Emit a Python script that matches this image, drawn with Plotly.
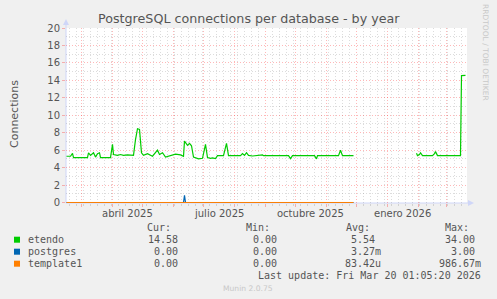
import plotly.graph_objects as go

# ---------------- data ----------------
etendo_dates = [
    "2025-02-14", "2025-02-18", "2025-02-20", "2025-02-21", "2025-03-07", "2025-03-08",
    "2025-03-10", "2025-03-12", "2025-03-13", "2025-03-15", "2025-03-17", "2025-03-19",
    "2025-03-20", "2025-03-30", "2025-04-01", "2025-04-02", "2025-04-06", "2025-04-09",
    "2025-04-12", "2025-04-16", "2025-04-22", "2025-04-24", "2025-04-26", "2025-04-28",
    "2025-04-29", "2025-04-30", "2025-05-02", "2025-05-06", "2025-05-11", "2025-05-16",
    "2025-05-18", "2025-05-21", "2025-05-24", "2025-05-29", "2025-06-03", "2025-06-08",
    "2025-06-11", "2025-06-12", "2025-06-15", "2025-06-17", "2025-06-19", "2025-06-21",
    "2025-06-23", "2025-06-26", "2025-06-30", "2025-07-01", "2025-07-03", "2025-07-05",
    "2025-07-08", "2025-07-10", "2025-07-13", "2025-07-15", "2025-07-21", "2025-07-24",
    "2025-07-26", "2025-08-07", "2025-08-09", "2025-08-11", "2025-08-13", "2025-08-15",
    "2025-08-19", "2025-08-29", "2025-08-30", "2025-09-24", "2025-09-26", "2025-09-28",
    "2025-10-11", "2025-10-13", "2025-10-20", "2025-10-22", "2025-10-23", "2025-11-13",
    "2025-11-15", "2025-11-17", "2025-11-28", "2025-12-15", "2026-01-30", "2026-01-31",
    "2026-02-02", "2026-02-03", "2026-02-05", "2026-02-15", "2026-02-17", "2026-02-18",
    "2026-02-20", "2026-03-15", "2026-03-16", "2026-03-19", "2026-03-20",
]
etendo_values = [
    5.3, 5.3, 5.63, 5.14, 5.14, 5.7,
    5.4, 5.55, 5.7, 5.2, 5.6, 5.7,
    5.14, 5.14, 6.66, 5.5, 5.4, 5.5,
    5.4, 5.45, 5.4, 7.2, 8.45, 8.38,
    7.2, 5.7, 5.4, 5.6, 5.3, 6.0,
    5.5, 5.7, 5.2, 5.4, 5.55, 5.45,
    5.3, 7.04, 6.55, 6.78, 6.5, 5.2,
    5.1, 5.0, 5.06, 5.5, 6.66, 5.15,
    5.06, 5.12, 5.03, 5.37, 5.37, 6.78,
    5.37, 5.37, 5.6, 5.4, 5.7, 5.4,
    5.33, 5.45, 5.37, 5.37, 5.03, 5.37,
    5.3, 5.37, 5.37, 5.0, 5.37, 5.37,
    5.98, 5.37, 5.37, None, 5.63, 5.37,
    5.5, 5.7, 5.37, 5.37, 5.6, 5.83,
    5.37, 5.37, 14.55, 14.6, 14.58,
]

postgres_dates = ["2025-02-14", "2025-06-11", "2025-06-12", "2025-06-13", "2025-11-28"]
postgres_values = [0, 0, 0.83, 0, 0]

template1_dates = ["2025-02-14", "2025-11-28"]
template1_values = [0, 0]

series_names = ["etendo", "postgres", "template1"]
series_colors = ["#00CC00", "#0066B3", "#FF8000"]
legend_cur = ["14.58", "0.00", "0.00"]
legend_min = ["0.00", "0.00", "0.00"]
legend_avg = ["5.54", "3.27m", "83.42u"]
legend_max = ["34.00", "3.00", "986.67m"]

month_label_dates = ["2025-04-16", "2025-07-16", "2025-10-16", "2026-01-16"]
month_label_texts = ["abril 2025", "julio 2025", "octubre 2025", "enero 2026"]

# ---------------- geometry helpers ----------------
W, H = 497, 299
L, R, T, B = 66, 467, 28, 203


def px(x):
    return (x - L) / (R - L)


def py(y):
    return (B - y) / (B - T)


FONT = "DejaVu Sans"
MONO = "DejaVu Sans Mono"
TXT = "#555555"

fig = go.Figure()
fig.add_trace(go.Scatter(x=etendo_dates, y=etendo_values, mode="lines",
                         line=dict(color=series_colors[0], width=1.2), connectgaps=False,
                         hoverinfo="skip"))
fig.add_trace(go.Scatter(x=postgres_dates, y=postgres_values, mode="lines",
                         line=dict(color=series_colors[1], width=1.2), hoverinfo="skip"))
fig.add_trace(go.Scatter(x=template1_dates, y=template1_values, mode="lines",
                         line=dict(color=series_colors[2], width=1.0), hoverinfo="skip"))

red_grid = "rgba(255,0,0,0.28)"
gray_grid = "rgba(130,130,130,0.28)"

fig.update_layout(
    width=W, height=H,
    margin=dict(l=L, r=W - R, t=T, b=H - B, pad=0),
    paper_bgcolor="#F0F0F0", plot_bgcolor="#FFFFFF",
    showlegend=False,
    font=dict(family=FONT, color=TXT, size=10),
    xaxis=dict(
        type="date", range=["2025-02-13 12:00", "2026-03-21 12:00"],
        dtick="M1", tick0="2025-01-01", showticklabels=False,
        ticks="outside", ticklen=3, tickcolor=red_grid,
        showgrid=True, gridcolor=red_grid, griddash="1px,2px", gridwidth=1,
        minor=dict(dtick=7 * 86400000, tick0="2025-02-17", showgrid=True,
                   gridcolor=gray_grid, griddash="1px,2px", ticks="outside",
                   ticklen=2, tickcolor=gray_grid),
        zeroline=False, showline=False, fixedrange=True,
    ),
    yaxis=dict(
        range=[-0.06, 20], dtick=2, tick0=0,
        ticks="outside", ticklen=3, tickcolor=red_grid,
        tickfont=dict(size=10, color=TXT, family=FONT),
        showgrid=True, gridcolor=red_grid, griddash="1px,2px", gridwidth=1,
        minor=dict(dtick=1, showgrid=True, gridcolor=gray_grid, griddash="1px,2px"),
        zeroline=False, showline=False, fixedrange=True,
    ),
)

axis_col = "#CFD6F8"
shapes = []
# y axis line + arrow
shapes.append(dict(type="line", xref="paper", yref="paper", x0=px(66), x1=px(66),
                   y0=py(203), y1=py(23), line=dict(color=axis_col, width=1), layer="below"))
shapes.append(dict(type="path", xref="paper", yref="paper",
                   path=f"M {px(63)} {py(25)} L {px(69)} {py(25)} L {px(66)} {py(19)} Z",
                   fillcolor=axis_col, line=dict(color=axis_col, width=0), layer="above"))
# x axis line + arrow
shapes.append(dict(type="line", xref="paper", yref="paper", x0=px(66), x1=px(470),
                   y0=py(203), y1=py(203), line=dict(color=axis_col, width=1), layer="below"))
shapes.append(dict(type="path", xref="paper", yref="paper",
                   path=f"M {px(468)} {py(200)} L {px(468)} {py(206)} L {px(474)} {py(203)} Z",
                   fillcolor=axis_col, line=dict(color=axis_col, width=0), layer="above"))

row_y = [239.7, 251.7, 263.7]
for i, c in enumerate(series_colors):
    shapes.append(dict(type="rect", xref="paper", yref="paper",
                       x0=px(14), x1=px(20), y0=py(row_y[i] + 3), y1=py(row_y[i] - 3),
                       fillcolor=c, line=dict(width=0)))
fig.update_layout(shapes=shapes)

ann = []


def text(x, y, s, anchor="left", size=10, family=MONO, color=TXT, angle=0):
    ann.append(dict(xref="paper", yref="paper", x=px(x), y=py(y), text=s, showarrow=False,
                    xanchor=anchor, yanchor="middle", textangle=angle,
                    font=dict(family=family, size=size, color=color)))


# title
text(248.5, 18.5, "PostgreSQL connections per database - by year", anchor="center",
     size=12.7, family=FONT)
# y title
text(14, 114, "Connections", anchor="center", size=11, family=FONT, angle=-90)
# rrdtool watermark
text(486, 52, "RRDTOOL / TOBI OETIKER", anchor="center", size=7.5, family=FONT,
     color="#C8C8C8", angle=90)
# month labels
for d, s in zip(month_label_dates, month_label_texts):
    ann.append(dict(xref="x", yref="paper", x=d, y=py(213), text=s, showarrow=False,
                    xanchor="center", yanchor="middle",
                    font=dict(family=FONT, size=10, color=TXT)))

# legend header
text(172.5, 227.3, "Cur:", anchor="right")
text(272, 227.3, "Min:", anchor="right")
text(371.5, 227.3, "Avg:", anchor="right")
text(470.5, 227.3, "Max:", anchor="right")

for i in range(3):
    y = row_y[i]
    text(26, y, series_names[i], anchor="left")
    text(179.5, y, legend_cur[i], anchor="right")
    text(278.5, y, legend_min[i], anchor="right")
    a = legend_avg[i]
    text(382.5 if a[-1].isalpha() else 376.5, y, a, anchor="right")
    m = legend_max[i]
    text(482.5 if m[-1].isalpha() else 476.5, y, m, anchor="right")

text(482.5, 275.7, "Last update: Fri Mar 20 01:05:20 2026", anchor="right")
text(248, 288.3, "Munin 2.0.75", anchor="center", size=7.6, family=FONT, color="#C8C8C8")

fig.update_layout(annotations=ann)
fig.write_html("out.html")
